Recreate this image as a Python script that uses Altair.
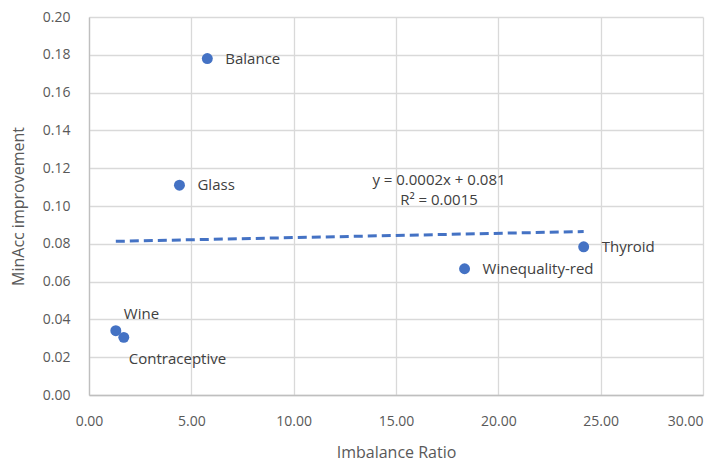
import altair as alt
import pandas as pd

names = ["Balance", "Glass", "Wine", "Contraceptive", "Winequality-red", "Thyroid"]
imbalance = [5.78, 4.42, 1.31, 1.70, 18.35, 24.17]
minacc = [0.178, 0.111, 0.034, 0.0305, 0.0668, 0.0784]

x_ticks = [0, 5, 10, 15, 20, 25, 30]
y_ticks = [0.0, 0.02, 0.04, 0.06, 0.08, 0.10, 0.12, 0.14, 0.16, 0.18, 0.20]

eq_lines = ["y = 0.0002x + 0.081", "R² = 0.0015"]
eq_x = [17.1, 17.1]
eq_y = [0.1135, 0.1030]

df = pd.DataFrame({"name": names, "x": imbalance, "y": minacc})
eq = pd.DataFrame({"t": eq_lines, "x": eq_x, "y": eq_y})

FONT = "Open Sans"
BLUE = "#4472C4"

xs = alt.Scale(domain=[0, 30], nice=False, zero=False)
ys = alt.Scale(domain=[0, 0.2], nice=False)

X = alt.X("x:Q", scale=xs, title="Imbalance Ratio",
          axis=alt.Axis(format=".2f", values=x_ticks, tickCount=7,
                        labelAlign={"condition": {"test": "datum.value == 30", "value": "right"},
                                    "value": "center"}))
Y = alt.Y("y:Q", scale=ys, title="MinAcc improvement",
          axis=alt.Axis(format=".2f", values=y_ticks, tickCount=11))

base = alt.Chart(df)

points = base.mark_circle(size=120, color=BLUE, opacity=1).encode(x=X, y=Y)

trend = base.transform_regression("x", "y").mark_line(
    color=BLUE, strokeWidth=3, strokeDash=[9, 5]
).encode(x=X, y=Y)

txt_props = dict(font=FONT, fontSize=15, color="#404040")

right_labels = base.transform_filter(
    alt.FieldOneOfPredicate(field="name", oneOf=["Balance", "Glass", "Winequality-red", "Thyroid"])
).mark_text(align="left", baseline="middle", dx=18, **txt_props).encode(
    x=X, y=Y, text="name:N")

wine_label = base.transform_filter(alt.datum.name == "Wine").mark_text(
    align="left", baseline="middle", dx=8, dy=-17, **txt_props
).encode(x=X, y=Y, text="name:N")

contra_label = base.transform_filter(alt.datum.name == "Contraceptive").mark_text(
    align="left", baseline="middle", dx=5, dy=22, **txt_props
).encode(x=X, y=Y, text="name:N")

eq_text = alt.Chart(eq).mark_text(align="center", baseline="middle", **txt_props).encode(
    x=X, y=Y, text="t:N")

chart = alt.layer(trend, points, right_labels, wine_label, contra_label, eq_text).properties(
    width=614, height=378,
    autosize=alt.AutoSizeParams(type="none"),
    padding={"left": 81, "top": 9, "right": 8, "bottom": 67},
).configure_view(stroke=None).configure_axis(
    grid=True, gridColor="#d9d9d9", gridWidth=1.3,
    domainColor="#bfbfbf", domainWidth=1.3, ticks=False,
    labelFont=FONT, labelFontSize=14, labelColor="#595959",
    labelOverlap=False, labelFlush=False,
    titleFont=FONT, titleFontSize=16, titleColor="#595959", titleFontWeight="normal",
).configure_axisX(labelPadding=19, titlePadding=16).configure_axisY(
    labelPadding=19, titlePadding=16)

chart.save("out.html", embed_options={"renderer": "svg", "actions": False})
